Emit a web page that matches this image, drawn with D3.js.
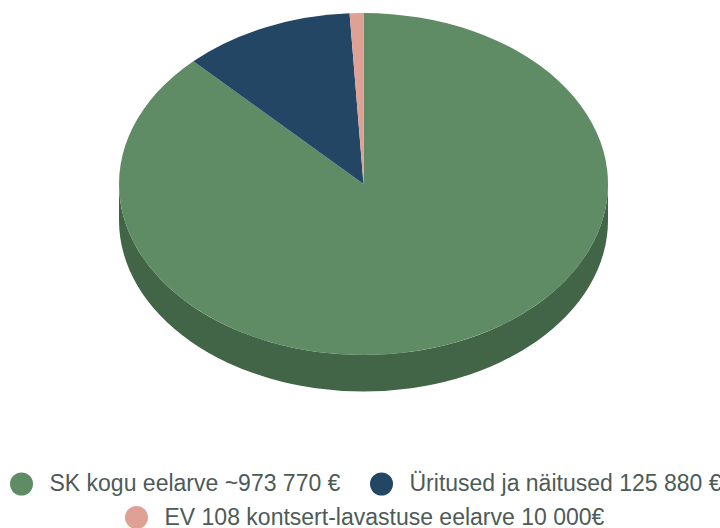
<!DOCTYPE html>
<html>
<head>
  <style>
    body {
      margin: 0;
      background: #fff;
    }
    .legend-label {
      font-family: "Liberation Sans", Arial, sans-serif;
      font-size: 23px;
      fill: #4d5b57;
    }
  </style>
</head>
<body>
  <script src="https://d3js.org/d3.v7.min.js"></script>
  <script>
    var labels = ["SK kogu eelarve ~973 770 €", "Üritused ja näitused 125 880 €", "EV 108 kontsert-lavastuse eelarve 10 000€"];
    var values = [973770, 125880, 10000];
    var topColors = ["#5f8c65", "#234665", "#dfa196"];
    var sideColors = ["#426547", "#183148", "#a0736b"];

    var width = 720, height = 528;
    var cx = 363.5, cy = 184, rx = 244.5, ry = 171, depth = 36.5;

    var svg = d3.select("body").append("svg")
        .attr("width", width)
        .attr("height", height);

    var pie = d3.pie().sort(null);
    var slices = pie(values);

    // top face is a flat pie squashed into an ellipse
    var arc = d3.arc().innerRadius(0).outerRadius(1);

    // Front wall of a slice, angles measured clockwise from 12 o'clock.
    function wall(d) {
      var a0 = Math.max(d.startAngle, Math.PI / 2),
          a1 = Math.min(d.endAngle, Math.PI * 3 / 2);
      if (a1 <= a0) return null;
      var x0 = cx + rx * Math.sin(a0), y0 = cy - ry * Math.cos(a0),
          x1 = cx + rx * Math.sin(a1), y1 = cy - ry * Math.cos(a1);
      return "M" + x0 + "," + y0 +
        "A" + rx + "," + ry + " 0 0 1 " + x1 + "," + y1 +
        "L" + x1 + "," + (y1 + depth) +
        "A" + rx + "," + ry + " 0 0 0 " + x0 + "," + (y0 + depth) + "Z";
    }

    svg.selectAll(".wall")
        .data(slices)
      .enter().append("path")
        .attr("class", "wall")
        .attr("fill", (d, i) => sideColors[i])
        .attr("d", d => wall(d));

    svg.selectAll(".slice")
        .data(slices)
      .enter().append("path")
        .attr("class", "slice")
        .attr("fill", (d, i) => topColors[i])
        .attr("transform", "translate(" + cx + "," + cy + ") scale(" + rx + "," + ry + ")")
        .attr("d", arc);

    var legendPos = [[21.5, 484], [381.5, 484], [136.5, 517.5]];

    var legend = svg.selectAll(".legend")
        .data(labels)
      .enter().append("g")
        .attr("class", "legend")
        .attr("transform", (d, i) => "translate(" + legendPos[i] + ")");

    legend.append("circle")
        .attr("r", 11.5)
        .attr("fill", (d, i) => topColors[i]);

    legend.append("text")
        .attr("class", "legend-label")
        .attr("x", 28)
        .attr("y", 7)
        .text(d => d);
  </script>
</body>
</html>
